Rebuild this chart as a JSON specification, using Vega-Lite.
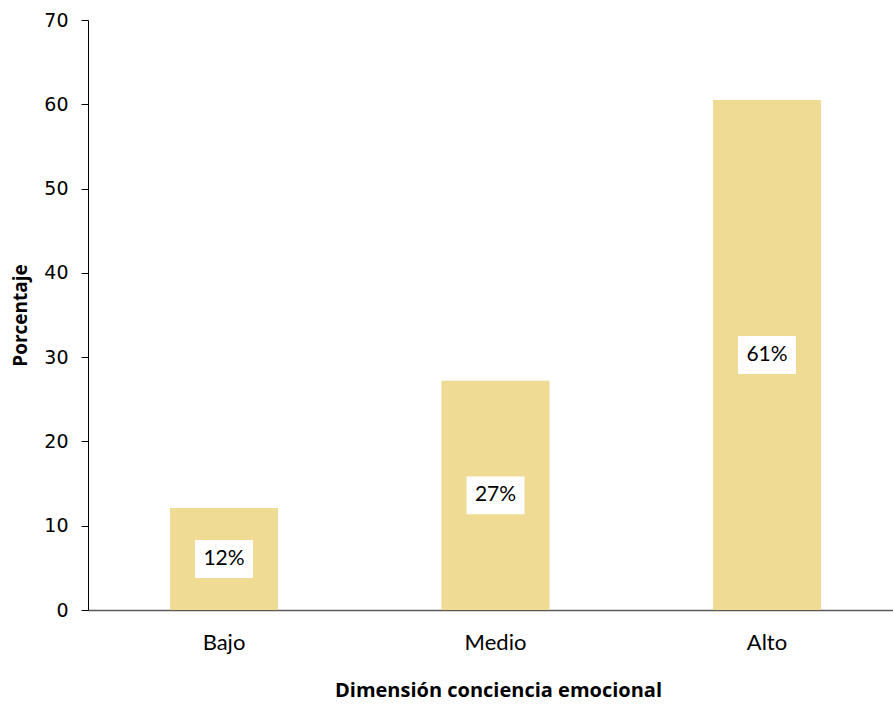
{
  "$schema": "https://vega.github.io/schema/vega-lite/v6.json",
  "width": 805,
  "height": 590,
  "autosize": {"type": "none"},
  "padding": {"left": 88, "top": 20, "right": 0, "bottom": 95},
  "background": "white",
  "config": {"view": {"stroke": null}},
  "data": {"values": [
    {"nivel": "Bajo", "pct": 12.1, "label": "12%"},
    {"nivel": "Medio", "pct": 27.2, "label": "27%"},
    {"nivel": "Alto", "pct": 60.5, "label": "61%"}
  ]},
  "transform": [{"calculate": "datum.pct / 2", "as": "mid"}],
  "encoding": {
    "x": {
      "field": "nivel", "type": "nominal", "sort": null,
      "scale": {"range": [0, 815], "paddingInner": 0.602, "paddingOuter": 0.302},
      "axis": {
        "title": "Dimensión conciencia emocional",
        "labelAngle": 0, "ticks": false, "labelPadding": 22,
        "labelFont": "Lato", "labelFontSize": 22, "labelColor": "#000000",
        "titleFont": "Open Sans", "titleFontSize": 20, "titleFontWeight": "bold", "titleColor": "#000000",
        "titlePadding": 27, "titleX": 410,
        "domainColor": "#595959", "domainWidth": 1.5
      }
    }
  },
  "layer": [
    {
      "mark": {"type": "bar", "color": "#EFDB93"},
      "encoding": {
        "y": {
          "field": "pct", "type": "quantitative",
          "scale": {"domain": [0, 70]},
          "axis": {
            "title": "Porcentaje", "values": [0, 10, 20, 30, 40, 50, 60, 70],
            "grid": false, "tickSize": 7, "tickColor": "#000000", "domainColor": "#000000",
            "labelFont": "DejaVu Sans", "labelFontSize": 19, "labelColor": "#000000", "labelPadding": 13,
            "titleFont": "Open Sans", "titleFontSize": 19, "titleFontWeight": "bold", "titleColor": "#000000",
            "titlePadding": 13
          }
        }
      }
    },
    {
      "mark": {"type": "point", "filled": true, "opacity": 1, "color": "white",
               "shape": "M-1,-0.655L1,-0.655L1,0.655L-1,0.655Z", "size": 3364},
      "encoding": {"y": {"field": "mid", "type": "quantitative"}}
    },
    {
      "mark": {"type": "text", "font": "Lato", "fontSize": 21, "color": "#000000"},
      "encoding": {"y": {"field": "mid", "type": "quantitative"}, "text": {"field": "label"}}
    }
  ]
}
